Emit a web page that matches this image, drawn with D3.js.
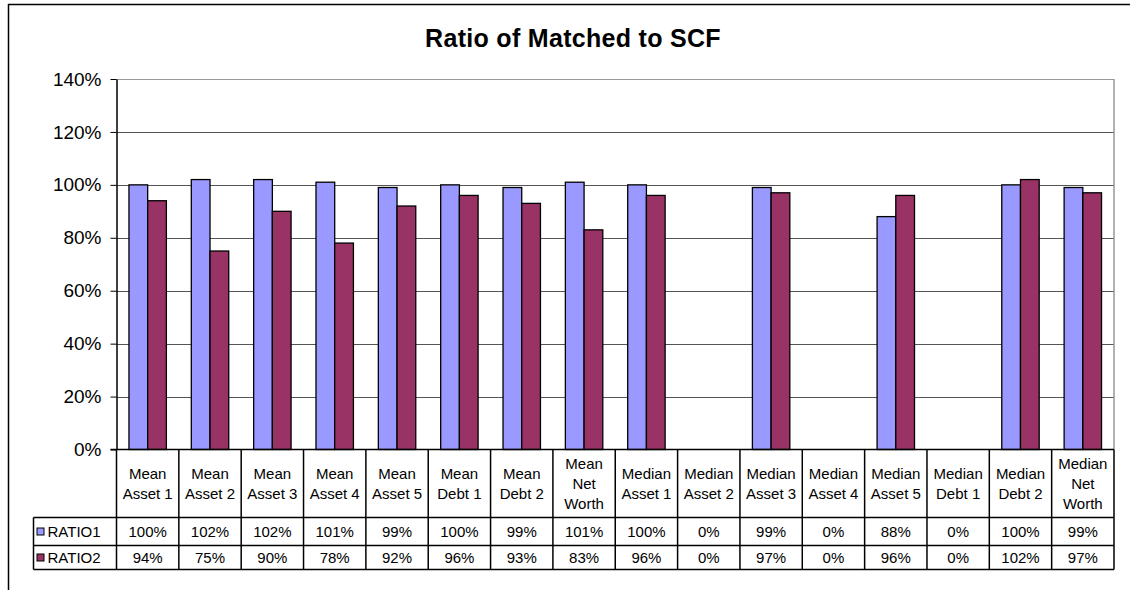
<!DOCTYPE html>
<html>
<head>
<meta charset="utf-8">
<script src="https://cdn.jsdelivr.net/npm/d3@7"></script>
<style>
  body { margin: 0; background: #fff; }
  svg { font-family: "Liberation Sans", Arial, sans-serif; }
  .grid line { stroke-width: 1; }
  .tbl line { stroke: #000; stroke-width: 1.5; }
</style>
</head>
<body>
<svg id="chart" width="1130" height="590"></svg>
<script>
"use strict";

const categories = [
  "Mean|Asset 1", "Mean|Asset 2", "Mean|Asset 3", "Mean|Asset 4", "Mean|Asset 5",
  "Mean|Debt 1", "Mean|Debt 2", "Mean|Net|Worth", "Median|Asset 1", "Median|Asset 2",
  "Median|Asset 3", "Median|Asset 4", "Median|Asset 5", "Median|Debt 1", "Median|Debt 2",
  "Median|Net|Worth"
];
const seriesNames = ["RATIO1", "RATIO2"];
const ratio1 = [100, 102, 102, 101, 99, 100, 99, 101, 100, 0, 99, 0, 88, 0, 100, 99];
const ratio2 = [94, 75, 90, 78, 92, 96, 93, 83, 96, 0, 97, 0, 96, 0, 102, 97];
const yTicks = [0, 20, 40, 60, 80, 100, 120, 140];
const colors = ["#9999ff", "#993366"];

const series = [ratio1, ratio2];

const margins = {top: 79, left: 116.5, right: 1114, bottom: 449.5};
const svg = d3.select("#chart");

// outer frame (top and left edges only visible)
svg.append("line").attr("x1", 8).attr("x2", 1130).attr("y1", 4.5).attr("y2", 4.5)
   .attr("stroke", "#000").attr("stroke-width", 1.5);
svg.append("line").attr("x1", 8.5).attr("x2", 8.5).attr("y1", 4).attr("y2", 590)
   .attr("stroke", "#000").attr("stroke-width", 1.5);

svg.append("text")
   .attr("x", 573).attr("y", 47)
   .attr("text-anchor", "middle")
   .attr("font-size", 25).attr("font-weight", "bold")
   .attr("letter-spacing", 0.3)
   .text("Ratio of Matched to SCF");

const x = d3.scaleBand()
            .domain(d3.range(categories.length))
            .range([margins.left, margins.right])
            .paddingInner(0).paddingOuter(0);

const xInner = d3.scaleBand()
                 .domain(d3.range(series.length))
                 .range([0, x.bandwidth()])
                 .paddingOuter(0.666).paddingInner(0);

const y = d3.scaleLinear()
            .domain([0, 140])
            .range([margins.bottom, margins.top]);

// gridlines
svg.append("g")
   .attr("class", "grid")
   .selectAll("line")
   .data(yTicks.filter(t => t > 0))
   .join("line")
   .attr("x1", margins.left).attr("x2", margins.right)
   .attr("y1", d => Math.round(y(d)) + 0.5)
   .attr("y2", d => Math.round(y(d)) + 0.5)
   .attr("stroke", d => d === 140 ? "#999" : "#555");

// right border of plot area
svg.append("line")
   .attr("x1", margins.right).attr("x2", margins.right)
   .attr("y1", margins.top).attr("y2", margins.bottom)
   .attr("stroke", "#999").attr("stroke-width", 1.5);

// y axis
const yAxis = svg.append("g")
   .attr("transform", `translate(${margins.left},0)`)
   .call(d3.axisLeft(y).tickValues(yTicks).tickFormat(d => d + "%").tickSize(6).tickSizeOuter(0));
yAxis.select(".domain").attr("stroke", "#000").attr("stroke-width", 1.5);
yAxis.selectAll(".tick line").attr("stroke", "#000");
yAxis.selectAll(".tick text")
     .attr("font-size", 19)
     .attr("font-family", "Liberation Sans, Arial, sans-serif")
     .attr("x", -15)
     .attr("fill", "#000");

// bars
series.forEach((vals, si) => {
  svg.append("g")
     .selectAll("rect")
     .data(vals)
     .join("rect")
     .attr("x", (d, i) => x(i) + xInner(si))
     .attr("width", xInner.bandwidth())
     .attr("y", d => y(d))
     .attr("height", d => y(0) - y(d))
     .attr("fill", colors[si])
     .attr("stroke", d => d > 0 ? "#000" : "none")
     .attr("stroke-width", 1.3);
});

// data table
const rowLabelTop = margins.bottom;
const rowTop1 = 517.5;
const rowTop2 = 545.5;
const rowBottom = 569.5;
const legendLeft = 33.5;

const tbl = svg.append("g").attr("class", "tbl");

// horizontal lines
tbl.append("line").attr("x1", margins.left - 6).attr("x2", margins.right)
   .attr("y1", rowLabelTop).attr("y2", rowLabelTop);
[rowTop1, rowTop2, rowBottom].forEach(yy => {
  tbl.append("line").attr("x1", legendLeft).attr("x2", margins.right)
     .attr("y1", yy).attr("y2", yy);
});

// vertical lines
tbl.selectAll("line.v")
   .data(d3.range(categories.length + 1))
   .join("line")
   .attr("class", "v")
   .attr("x1", i => i < categories.length ? x(i) : margins.right)
   .attr("x2", i => i < categories.length ? x(i) : margins.right)
   .attr("y1", rowLabelTop).attr("y2", rowBottom);
tbl.append("line").attr("x1", legendLeft).attr("x2", legendLeft)
   .attr("y1", rowTop1).attr("y2", rowBottom);

// category labels
const lineH = 20;
const labelMid = (rowLabelTop + rowTop1) / 2;
categories.forEach((c, i) => {
  const lines = c.split("|");
  const t = svg.append("text")
     .attr("text-anchor", "middle")
     .attr("font-size", 15)
     .attr("x", x(i) + x.bandwidth() / 2);
  lines.forEach((ln, k) => {
    t.append("tspan")
     .attr("x", x(i) + x.bandwidth() / 2)
     .attr("y", labelMid + (k - (lines.length - 1) / 2) * lineH + 5)
     .text(ln);
  });
});

// value rows
const rowTops = [rowTop1, rowTop2];
const rowBottoms = [rowTop2, rowBottom];
series.forEach((vals, si) => {
  const mid = (rowTops[si] + rowBottoms[si]) / 2;
  svg.append("g")
     .selectAll("text")
     .data(vals)
     .join("text")
     .attr("x", (d, i) => x(i) + x.bandwidth() / 2)
     .attr("y", mid + 5.5)
     .attr("text-anchor", "middle")
     .attr("font-size", 15)
     .text(d => d + "%");

  svg.append("rect")
     .attr("x", legendLeft + 3.5).attr("y", mid - 3.5)
     .attr("width", 7).attr("height", 7)
     .attr("fill", colors[si]).attr("stroke", "#000").attr("stroke-width", 1);
  svg.append("text")
     .attr("x", legendLeft + 14).attr("y", mid + 5.5)
     .attr("font-size", 15)
     .text(seriesNames[si]);
});
</script>
</body>
</html>
